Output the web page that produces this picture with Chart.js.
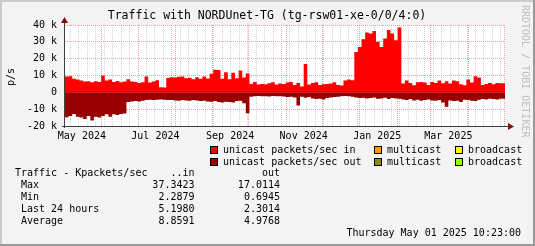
<!DOCTYPE html>
<html>
<head>
<meta charset="utf-8">
<script src="https://cdn.jsdelivr.net/npm/chart.js@4/dist/chart.umd.min.js"></script>
<style>
  html, body { margin: 0; padding: 0; background: #f3f3f3; }
  canvas { display: block; }
</style>
</head>
<body>
<canvas id="trafficChart" width="535" height="246"></canvas>
<script>
// Kpackets/sec, one value per 3 days, from May 01 2024 10:23 to May 01 2025 10:23
const inPackets = [
  9, 9.4, 9.6, 8, 7.6, 7, 6.4, 6.6, 6, 6.6, 6.2, 10, 7, 7.6, 6.2, 6.8, 6, 6.4, 7.8, 6.4,
  6.2, 5.6, 6, 9.4, 5.8, 6.4, 7.2, 3, 2.8, 8.5, 9,
  8.8, 9.2, 9.4, 8.4, 8.6, 7.8, 9, 8, 9.4, 8.2, 11, 13.4, 13.2, 8, 12, 7.8, 11.6, 8.4, 13, 8.8,
  11.2, 5, 6.2, 4.6, 5, 4.8, 5.4, 6, 4.6, 5.2,
  5, 5.8, 6.2, 4.4, 5.6, 3.4, 16.8, 4.6, 5.6, 6, 4.4, 4.8, 5, 5.2, 6, 4.4, 4, 7, 7.6, 7.2,
  24, 27, 31.5, 35.5, 35, 36.5, 30, 27, 32, 37, 35, 31, 38.5,
  5.2, 7, 5.6, 4.2, 6, 6.2, 5.8, 4.4, 6.2, 5.6, 7, 5.4, 6.6, 5.2, 7, 6.6, 4.8, 4.2, 7.6, 5.8,
  9.6, 8.8, 4.4, 5, 5.6, 4.8, 5.6, 5.4
];
const outPackets = [
  -13.8, -14.8, -14, -12.8, -14.5, -15, -15.8, -14, -16.8, -14.5, -15, -14, -13, -14.5, -13, -13.5,
  -12.8, -12.5, -5.8, -5.5, -5.2, -5.4, -5, -4.6, -4.4, -4.6, -4.4, -4.2, -4.4, -4.5, -4.6,
  -4.8, -5, -4.6, -4.8, -5, -4.6, -4.8, -5.2, -5, -5.4, -5.6, -5.2, -5.8, -6, -5.6, -5.8, -6, -5.2,
  -5, -6.5, -12.4, -2.6, -2.4, -2.2, -2.4, -2.3, -2.5, -2.2, -2.4, -2.3,
  -2.5, -2.8, -2.6, -3, -7.8, -2.6, -3.2, -2.8, -3.6, -4, -3.8, -4.2, -3.4, -3, -2.8, -2.6, -2.4,
  -2.2, -2.4, -2.6, -3, -3.4, -3.2, -3.6, -3.4, -3, -3.8, -3.6, -3.2, -4, -3.4, -3.6, -3.8,
  -4.2, -4.6, -4, -4.8, -4.4, -5, -4.6, -4.2, -4.8, -5, -4.6, -6, -8.5, -4.8, -5.2, -5, -5.8, -4.4,
  -4.6, -5, -5.2, -4.4, -4, -4.2, -3.8, -4, -4.2, -3.8
];
const stepDays = 3;
const totalDays = 365;
const startHour = 0.43; // 10:23 on the first day

const monthLabels = ['May 2024', 'Jul 2024', 'Sep 2024', 'Nov 2024', 'Jan 2025', 'Mar 2025'];
const monthLabelDays = [14, 75, 137, 198, 259, 318];
const monthStartDays = [31, 61, 92, 123, 153, 184, 214, 245, 276, 304, 335, 365];
const firstMonday = 5;

const statRows = ['Max', 'Min', 'Last 24 hours', 'Average'];
const statIn = ['37.3423', '2.2879', '5.1980', '8.8591'];
const statOut = ['17.0114', '0.6945', '2.3014', '4.9768'];

const FONT = '"DejaVu Sans Mono", "Liberation Mono", monospace';

function toPoints(values) {
  const pts = values.map((v, i) => ({ x: i * stepDays, y: v }));
  pts.push({ x: totalDays, y: values[values.length - 1] });
  return pts;
}

// x tick positions: weekly minor lines, month-start major lines, label positions
const tickKind = new Map();
for (let d = firstMonday; d < totalDays; d += 7) tickKind.set(+(d - startHour).toFixed(3), 'week');
monthStartDays.forEach(d => tickKind.set(+(d - startHour).toFixed(3), 'month'));
monthLabelDays.forEach((d, i) => tickKind.set(d, 'label' + i));

const rrdDecor = {
  id: 'rrdDecor',
  beforeDraw(chart) {
    const c = chart.ctx, a = chart.chartArea;
    const W = chart.width, H = chart.height;
    c.save();
    c.fillStyle = '#f3f3f3';
    c.fillRect(0, 0, W, H);
    // shaded frame
    c.fillStyle = '#cbcbcb';
    c.fillRect(0, 0, W, 2);
    c.fillRect(0, 0, 2, H);
    c.fillStyle = '#999999';
    c.fillRect(0, H - 2, W, 2);
    c.fillRect(W - 2, 0, 2, H);
    c.fillStyle = '#ffffff';
    c.fillRect(a.left, a.top, a.right - a.left, a.bottom - a.top);
    c.restore();
  },
  afterDraw(chart) {
    const c = chart.ctx, a = chart.chartArea;
    c.save();
    // axes with arrows
    c.strokeStyle = '#404040';
    c.lineWidth = 1;
    c.beginPath();
    c.moveTo(64.5, a.bottom + 2);
    c.lineTo(64.5, 20);
    c.moveTo(62, a.bottom + 0.5);
    c.lineTo(510, a.bottom + 0.5);
    c.stroke();
    c.fillStyle = '#7f1010';
    c.beginPath();
    c.moveTo(61, 23); c.lineTo(68, 23); c.lineTo(64.5, 17); c.closePath();
    c.fill();
    c.beginPath();
    c.moveTo(508, a.bottom - 3); c.lineTo(508, a.bottom + 4); c.lineTo(514, a.bottom + 0.5); c.closePath();
    c.fill();

    c.fillStyle = '#000';
    c.textBaseline = 'middle';
    // title
    c.font = '11.5px ' + FONT;
    c.textAlign = 'center';
    c.fillText('Traffic with NORDUnet-TG (tg-rsw01-xe-0/0/4:0)', 267, 16.5);

    // y unit
    c.font = '10px ' + FONT;
    c.save();
    c.translate(11.5, 77);
    c.rotate(-Math.PI / 2);
    c.fillText('p/s', 0, 0);
    c.restore();

    // watermark
    c.save();
    c.fillStyle = '#bdbdbd';
    c.translate(525, 5);
    c.rotate(Math.PI / 2);
    c.textAlign = 'left';
    c.fillText('RRDTOOL / TOBI OETIKER', 0, 0);
    c.restore();

    // legend
    const legend = [
      [210.5, 150, '#ff0000', 'unicast packets/sec in'],
      [374.5, 150, '#ff9900', 'multicast'],
      [455.5, 150, '#ffff00', 'broadcast'],
      [210.5, 162, '#990000', 'unicast packets/sec out'],
      [374.5, 162, '#8b8b00', 'multicast'],
      [455.5, 162, '#99ff00', 'broadcast']
    ];
    c.textAlign = 'left';
    legend.forEach(([x, y, col, label]) => {
      c.fillStyle = col;
      c.fillRect(x, y - 3.5, 7, 7);
      c.strokeStyle = '#000';
      c.strokeRect(x, y - 3.5, 7, 7);
      c.fillStyle = '#000';
      c.fillText(label, x + 12.5, y);
    });

    // stats table
    c.fillText('Traffic - Kpackets/sec', 15, 173.5);
    c.textAlign = 'right';
    c.fillText('..in', 194.5, 173.5);
    c.fillText('out', 280, 173.5);
    statRows.forEach((name, i) => {
      const y = 185.5 + i * 12;
      c.textAlign = 'left';
      c.fillText(name, 21, y);
      c.textAlign = 'right';
      c.fillText(statIn[i], 194.5, y);
      c.fillText(statOut[i], 280, y);
    });
    c.fillText('Thursday May 01 2025 10:23:00', 521, 233.5);
    c.restore();
  }
};

const ctx = document.getElementById('trafficChart').getContext('2d');
new Chart(ctx, {
  type: 'line',
  data: {
    datasets: [
      {
        label: 'unicast packets/sec in',
        data: toPoints(inPackets),
        stepped: 'after',
        fill: 'origin',
        backgroundColor: '#ff0000',
        borderWidth: 0,
        pointRadius: 0
      },
      {
        label: 'unicast packets/sec out',
        data: toPoints(outPackets),
        stepped: 'after',
        fill: 'origin',
        backgroundColor: '#990000',
        borderWidth: 0,
        pointRadius: 0
      }
    ]
  },
  options: {
    responsive: false,
    animation: false,
    devicePixelRatio: 1,
    layout: { padding: { top: 25, right: 30, left: 0, bottom: 0 } },
    plugins: {
      legend: { display: false },
      tooltip: { enabled: false }
    },
    scales: {
      x: {
        type: 'linear',
        min: 0,
        max: totalDays,
        afterFit: s => { s.height = 120; },
        afterBuildTicks: s => {
          s.ticks = [...tickKind.keys()].sort((p, q) => p - q).map(v => ({ value: v }));
        },
        grid: {
          drawTicks: false,
          color: c => {
            const k = c.tick ? tickKind.get(c.tick.value) : null;
            if (k === 'month') return 'rgba(230,80,80,0.55)';
            if (k === 'week') return 'rgba(150,150,150,0.45)';
            return 'rgba(0,0,0,0)';
          }
        },
        border: { display: false, dash: [1, 1] },
        ticks: {
          autoSkip: false,
          maxRotation: 0,
          padding: 4,
          color: '#000',
          font: { family: FONT, size: 10 },
          callback: v => {
            const k = tickKind.get(v);
            return k && k.startsWith('label') ? monthLabels[+k.slice(5)] : '';
          }
        }
      },
      y: {
        min: -20,
        max: 40,
        afterFit: s => { s.width = 65; },
        grid: { drawTicks: false, color: 'rgba(230,80,80,0.55)' },
        border: { display: false, dash: [1, 1] },
        ticks: {
          stepSize: 10,
          padding: 8,
          color: '#000',
          font: { family: FONT, size: 10 },
          callback: v => (v === 0 ? '0' : v + ' k')
        }
      }
    }
  },
  plugins: [rrdDecor]
});
</script>
</body>
</html>
